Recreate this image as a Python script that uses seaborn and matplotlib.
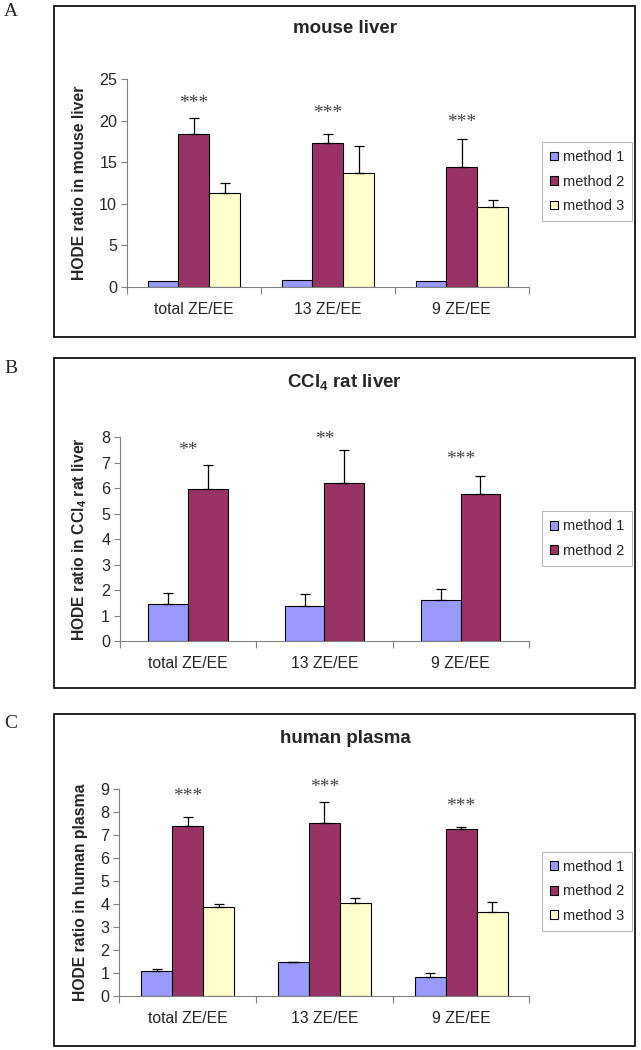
import pandas as pd
import matplotlib
matplotlib.use("Agg")
import matplotlib.pyplot as plt
import seaborn as sns
from matplotlib.patches import Rectangle

sns.set_theme(style="white")
plt.rcParams["font.family"] = ["Liberation Sans", "DejaVu Sans"]
plt.rcParams["mathtext.fontset"] = "custom"
plt.rcParams["mathtext.rm"] = "Liberation Sans"
plt.rcParams["mathtext.bf"] = "Liberation Sans:bold"

categories = ["total ZE/EE", "13 ZE/EE", "9 ZE/EE"]
methods = ["method 1", "method 2", "method 3"]
colors = ["#9999FF", "#993366", "#FFFFCC"]

# panel A: mouse liver
a_vals = [[0.72, 0.84, 0.72], [18.35, 17.27, 14.39], [11.32, 13.76, 9.56]]
a_errs = [[0, 0, 0], [1.95, 1.08, 3.36], [1.16, 3.24, 0.88]]
a_stars = ["***", "***", "***"]
a_star_y = [22.1, 20.8, 19.8]

# panel B: CCl4 rat liver
b_vals = [[1.47, 1.38, 1.61], [5.95, 6.19, 5.77]]
b_errs = [[0.43, 0.47, 0.44], [0.96, 1.30, 0.71]]
b_stars = ["**", "**", "***"]
b_star_y = [7.49, 7.91, 7.12]

# panel C: human plasma
c_vals = [[1.08, 1.46, 0.82], [7.40, 7.54, 7.24], [3.87, 4.03, 3.67]]
c_errs = [[0.10, 0.04, 0.16], [0.36, 0.90, 0.10], [0.12, 0.22, 0.42]]
c_stars = ["***", "***", "***"]
c_star_y = [8.66, 9.08, 8.24]

fig = plt.figure(figsize=(6.41, 10.5), dpi=100)

panels = [
    dict(vals=a_vals, errs=a_errs, stars=a_stars, star_y=a_star_y,
         title="mouse liver", ylabel="HODE ratio in mouse liver",
         ymax=25, ystep=5, width=0.69, rect=[0.198, 0.7267, 0.627, 0.198],
         box=[0.0842, 0.679, 0.9064, 0.3153], title_y=0.9724,
         leg_y=0.827, letter="A", letter_y=0.9886),
    dict(vals=b_vals, errs=b_errs, stars=b_stars, star_y=b_star_y,
         title=r"CCl$_\mathbf{4}$ rat liver",
         ylabel=r"HODE ratio in CCl$_\mathbf{4}$ rat liver",
         ymax=8, ystep=1, width=0.58, rect=[0.187, 0.3895, 0.638, 0.1943],
         box=[0.0842, 0.3448, 0.9064, 0.3142], title_y=0.6352,
         leg_y=0.4871, letter="B", letter_y=0.6495),
    dict(vals=c_vals, errs=c_errs, stars=c_stars, star_y=c_star_y,
         title="human plasma", ylabel="HODE ratio in human plasma",
         ymax=9, ystep=1, width=0.68, rect=[0.186, 0.0514, 0.640, 0.1972],
         box=[0.0842, 0.0038, 0.9064, 0.3162], title_y=0.2971,
         leg_y=0.151, letter="C", letter_y=0.3105),
]

for p in panels:
    n = len(p["vals"])
    rows = []
    for mi in range(n):
        for ci, cat in enumerate(categories):
            rows.append({"cat": cat, "method": methods[mi], "value": p["vals"][mi][ci]})
    df = pd.DataFrame(rows)

    ax = fig.add_axes(p["rect"])
    sns.barplot(data=df, x="cat", y="value", hue="method", palette=colors[:n],
                width=p["width"], gap=0, edgecolor="black", linewidth=0.8,
                saturation=1, errorbar=None, legend=False, ax=ax)
    bars = list(ax.containers)

    # upper error bars only
    for mi, cont in enumerate(bars):
        for ci, bar in enumerate(cont):
            e = p["errs"][mi][ci]
            if e > 0:
                x = bar.get_x() + bar.get_width() / 2
                ax.errorbar(x, bar.get_height(), yerr=[[0], [e]], fmt="none",
                            ecolor="black", elinewidth=0.9, capsize=3.3,
                            capthick=0.9, zorder=3)

    for ci, s in enumerate(p["stars"]):
        ax.text(ci, p["star_y"][ci], s, ha="center", va="center",
                family="Liberation Serif", fontsize=14, color="#444444",
                clip_on=False)

    ax.set_xlim(-0.5, 2.5)
    ax.set_ylim(0, p["ymax"])
    ax.set_yticks(range(0, p["ymax"] + 1, p["ystep"]))
    ax.set_xticks(range(3))
    ax.set_xticklabels(categories)
    ax.set_xticks([-0.5, 0.5, 1.5, 2.5], minor=True)
    ax.tick_params(axis="x", which="major", length=0, pad=11, labelsize=11.3)
    ax.tick_params(axis="x", which="minor", length=5, width=0.8,
                   color="#808080", direction="out", bottom=True)
    ax.tick_params(axis="y", length=4, width=0.8, color="#808080",
                   direction="out", left=True, labelsize=11.6, pad=3)
    ax.set_xlabel("")
    ax.set_ylabel(p["ylabel"], fontsize=11.3, fontweight="bold", labelpad=9)
    for side in ["top", "right"]:
        ax.spines[side].set_visible(False)
    for side in ["left", "bottom"]:
        ax.spines[side].set_color("#808080")
        ax.spines[side].set_linewidth(0.8)

    ax.legend(handles=bars, labels=methods[:n],
              loc="center left", bbox_to_anchor=(0.8456, p["leg_y"]),
              bbox_transform=fig.transFigure, fontsize=10.5,
              frameon=True, fancybox=False, edgecolor="#aaaaaa",
              framealpha=1, handlelength=0.55, handleheight=0.55,
              handletextpad=0.35, labelspacing=0.72, borderpad=0.55,
              borderaxespad=0)
    ax.get_legend().get_frame().set_linewidth(0.6)

    fig.text(0.5382, p["title_y"], p["title"], ha="center", va="center",
             fontsize=13.5, fontweight="bold")
    fig.add_artist(Rectangle((p["box"][0], p["box"][1]), p["box"][2], p["box"][3],
                             transform=fig.transFigure, fill=False,
                             edgecolor="black", linewidth=1.2))
    fig.text(0.0165, p["letter_y"], p["letter"], ha="center", va="center",
             family="Liberation Serif", fontsize=14)

fig.savefig("out.png", dpi=100)
